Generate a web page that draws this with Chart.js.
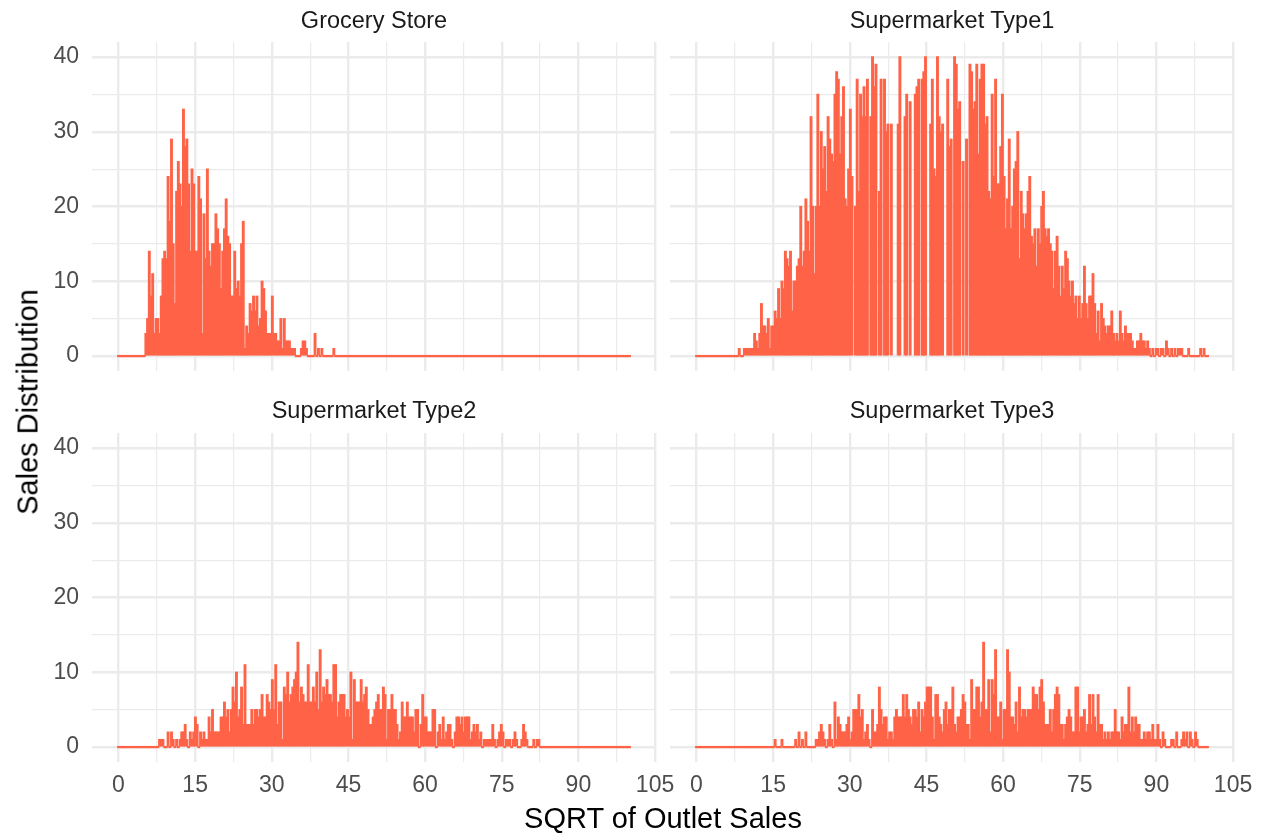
<!DOCTYPE html>
<html>
<head>
<meta charset="utf-8">
<script src="https://cdn.jsdelivr.net/npm/chart.js@4.4.1/dist/chart.umd.min.js"></script>
<style>
  body { margin: 0; background: #fff; }
  #wrap { position: relative; width: 1265px; height: 838px; overflow: hidden; font-family: "Liberation Sans", Arial, sans-serif; }
  canvas { position: absolute; }
  .strip { position: absolute; width: 564px; text-align: center; font-size: 23.5px; line-height: 24px; color: #1A1A1A; }
  .xtitle { position: absolute; left: 92px; width: 1142px; top: 804px; text-align: center; font-size: 29px; line-height: 29px; color: #000; }
  .ytitle { position: absolute; left: 28px; top: 402px; transform: translate(-50%, -50%) rotate(-90deg); white-space: nowrap; font-size: 29px; line-height: 29px; color: #000; }
</style>
</head>
<body>
<div id="wrap">
  <canvas id="c0" width="690" height="409" style="left:0px;top:2px"></canvas>
  <canvas id="c1" width="625" height="409" style="left:640px;top:2px"></canvas>
  <canvas id="c2" width="690" height="445" style="left:0px;top:393px"></canvas>
  <canvas id="c3" width="625" height="445" style="left:640px;top:393px"></canvas>
  <div class="strip" style="left:92px;top:8px">Grocery Store</div>
  <div class="strip" style="left:670px;top:8px">Supermarket Type1</div>
  <div class="strip" style="left:92px;top:398px">Supermarket Type2</div>
  <div class="strip" style="left:670px;top:398px">Supermarket Type3</div>
  <div class="xtitle">SQRT of Outlet Sales</div>
  <div class="ytitle">Sales Distribution</div>
</div>
<script>
// histogram bins: 300 bins over 0..100
const binCount = 300;
const binWidth = 100 / 299;

const xMajorTicks = [0, 15, 30, 45, 60, 75, 90, 105];
const xMinorTicks = [7.5, 22.5, 37.5, 52.5, 67.5, 82.5, 97.5];
const yMajorTicks = [0, 10, 20, 30, 40];
const yMinorTicks = [5, 15, 25, 35];

const panelNames = ['Grocery Store', 'Supermarket Type1', 'Supermarket Type2', 'Supermarket Type3'];

// counts per bin, starting at the given bin index (null = bin dropped, above 40)
const groceryStart = 16;
const groceryCounts = [
  3, 5, 14, 8, 11, 3, 5, 5, 3, 8,
  13, 14, 13, 24, 18, 29, 15, 7, 22, 26,
  23, 20, 33, 28, 29, 23, 14, 25, 23, 14,
  14, 24, 21, 3, 19, 13, 25, 14, 12, 15,
  15, 19, 17, 15, 9, 14, 17, 21, 16, 15,
  8, 8, 14, 9, 10, 8, 15, 18, 1, 4,
  3, 7, 6, 8, 6, 8, 4, 5, 10, 9,
  6, 3, 3, 3, 8, 3, 3, 2, 2, 5,
  1, 5, 2, 2, 2, 1, 1, 1, 0, 0,
  0, 1, 2, 2, 1, 0, 0, 0, 0, 3,
  0, 1, 0, 1, 0, 0, 0, 0, 0, 0, 1
];

const type1Start = 25;
const type1Counts = [
  1, 0, 0, 1, 1, 1, 1, 1, 1, 3,
  2, 1, 3, 7, 4, 4, 3, 5, 1, 4,
  4, 6, 5, 9, 5, 10, 9, 14, 13, 12,
  14, 6, 10, 10, 12, 13, 20, 12, 14, 21,
  18, 14, 32, 20, 11, 20, 35, 20, 30, 25,
  28, 22, 32, 29, 27, 26, 35, 38, 37, 27,
  32, 36, 21, 20, 25, 33, 24, null, 20, 37,
  22, 35, 32, 36, 32, 37, null, 32, 40, 36,
  39, null, 22, 37, null, 37, 30, 31, null, 31,
  null, null, null, 31, 40, null, null, 32, 35, null,
  34, null, null, 35, 36, 37, null, 37, 38, 40,
  null, null, 31, 37, 25, 24, 40, 32, 30, 31,
  null, null, 37, 28, 29, null, 40, 39, 33, 34,
  null, 26, null, 29, null, 39, 38, 33, 34, 39,
  27, 37, 39, 39, 31, 32, 22, 21, 35, 24,
  37, 23, 23, 28, 35, 24, 17, 21, 29, 17,
  20, 25, 26, 30, 13, 22, 19, 17, 19, 22,
  24, 16, 15, 17, 12, 17, 15, 20, 22, 17,
  16, 17, 15, 14, 9, 14, 16, 12, 8, 12,
  9, 14, 13, 10, 8, 10, 7, 8, 5, 8,
  5, 7, 12, 7, 5, 8, 8, 11, 7, 3,
  6, 2, 7, 5, 4, 3, 4, 4, 6, 3,
  2, 3, 2, 6, 3, 2, 4, 3, 3, 3,
  2, 1, 1, 2, 2, 3, 2, 2, 1, 2,
  1, 0, 1, 0, 1, 1, 0, 1, 1, 0,
  2, 1, 0, 1, 0, 1, 0, 1, 1, 1,
  0, 0, 0, 1, 0, 0, 0, 0, 0, 0,
  1, 0, 1
];

const type2Start = 24;
const type2Counts = [
  1, 1, 1, 0, 0, 2, 0, 2, 1, 0,
  1, 0, 1, 2, 2, 3, 1, 0, 2, 1,
  2, 4, 3, 0, 2, 1, 2, 1, 1, 4,
  2, 5, 2, 2, 2, 2, 4, 4, 6, 4, 5,
  2, 5, 8, 6, 10, 4, 5, 8, 3, 11,
  3, 3, 3, 5, 3, 5, 5, 4, 5, 7,
  4, 4, 7, 6, 5, 9, 5, 11, 3, 6, 6,
  1, 8, 7, 10, 6, 7, 8, 9, 10, 14,
  6, 8, 7, 6, 6, 11, 6, 6, 8, 6,
  10, 5, 13, 6, 8, 7, 9, 7, 7, 6,
  11, 11, 4, 6, 7, 7, 7, 4, 5, 4, 10,
  1, 9, 6, 6, 6, 9, 6, 7, 8, 5,
  3, 3, 4, 5, 6, 7, 5, 5, 8, 7,
  1, 5, 5, 7, 5, 5, 3, 1,
  2, 6, 4, 4, 6, 4, 4, 4, 2, 5,
  5, 0, 3, 7, 4, 4, 2, 2, 2, 5,
  5, 0, 2, 3, 1, 4, 1, 2, 3, 3,
  1, 0, 2, 4, 4, 3, 4, 2, 4, 4,
  4, 1, 2, 3, 2, 3, 1, 2, 0, 1,
  1, 1, 1, 1, 3, 1, 0, 1, 2, 3,
  2, 0, 1, 1, 1, 0, 1, 2, 1, 0,
  0, 1, 3, 2, 1, 0, 0, 0, 1, 0,
  1, 1
];

const type3Start = 46;
const type3Counts = [
  1, 0, 0, 0, 1, 0, 0, 0, 0, 0,
  0, 0, 1, 0, 2, 0, 1, 0, 2, 0,
  0, 0, 0, 0, 1, 1, 2, 3, 2, 1,
  0, 1, 3, 1, 0, 6, 1, 4, 3, 2,
  2, 2, 3, 4, 1, 2, 5, 5, 5, 7,
  4, 5, 1, 2, 3, 1, 0, 5, 2, 2,
  3, 8, 5, 3, 4, 4, 1, 2, 2, 1,
  4, 5, 4, 4, 4, 7, 4, 7, 5, 4,
  3, 5, 5, 4, 6, 2, 5, 4, 6, 8,
  8, 8, 4, 1, 7, 7, 4, 3, 2, 5,
  6, 3, 5, 5, 8, 3, 2,
  4, 4, 5, 7, 6, 3, 3,
  1, 9, 5, 5, 8, 8, 4, 6, 14, 5, 5,
  9, 2, 9, 7, 13, 4, 4, 6, 1, 5, 5,
  13, 10, 4, 4, 3, 6, 2, 8, 4, 5, 5,
  4, 5, 5, 5, 8, 7, 7, 5, 8, 9, 6,
  3, 3, 3, 5, 2, 5, 7, 8, 7, 3, 3,
  1, 3, 4, 5, 4, 2, 2, 8, 8, 2, 4,
  4, 5, 2, 3, 7, 3, 7, 4, 2, 7, 3,
  3, 1, 2, 1, 2, 1, 2, 2, 5, 2, 2,
  1, 4, 2, 3, 3, 8, 2, 4, 2, 4, 3,
  3, 1, 1, 2, 1, 2, 2, 1, 3, 1, 1,
  3, 1, 0, 2, 1, 0, 0, 0, 1, 1, 0,
  2, 0, 0, 1, 2, 1, 2, 0, 2, 1, 0,
  2, 1
];

function buildSeries(start, counts) {
  const out = [];
  for (let i = 0; i < binCount; i++) {
    const k = i - start;
    const v = (k >= 0 && k < counts.length) ? counts[k] : 0;
    out.push({ x: i * binWidth, y: v });
  }
  return out;
}

const tickFont = { family: '"Liberation Sans", Arial, sans-serif', size: 23 };
const gridColor = '#EBEBEB';

function makePanel(id, start, counts, showX, showY, pad) {
  const xTicks = xMajorTicks.concat(xMinorTicks).sort((a, b) => a - b);
  const yTicks = yMajorTicks.concat(yMinorTicks).sort((a, b) => a - b);
  new Chart(document.getElementById(id), {
    type: 'bar',
    data: {
      datasets: [{
        data: buildSeries(start, counts),
        backgroundColor: '#FF6347',
        borderWidth: 0,
        minBarLength: 1,
        inflateAmount: 0.6,
        barPercentage: 1,
        categoryPercentage: 1,
      }],
    },
    options: {
      responsive: false,
      animation: false,
      events: [],
      layout: { padding: pad },
      plugins: { legend: { display: false }, tooltip: { enabled: false } },
      scales: {
        x: {
          type: 'linear',
          min: -5.19,
          max: 105.19,
          offset: false,
          border: { display: false },
          grid: {
            offset: false,
            drawTicks: false,
            color: gridColor,
            lineWidth: (c) => (c.tick && xMajorTicks.includes(c.tick.value)) ? 2.4 : 1.2,
          },
          afterBuildTicks: (s) => { s.ticks = xTicks.map((v) => ({ value: v })); },
          afterFit: (s) => { s.height = showX ? 60 : 0; },
          ticks: {
            display: showX,
            autoSkip: false,
            maxRotation: 0,
            padding: 10,
            color: '#4D4D4D',
            font: tickFont,
            callback: (v) => xMajorTicks.includes(v) ? String(v) : '',
          },
        },
        y: {
          min: -2,
          max: 42,
          border: { display: false },
          grid: {
            drawTicks: false,
            color: gridColor,
            lineWidth: (c) => (c.tick && yMajorTicks.includes(c.tick.value)) ? 2.4 : 1.2,
          },
          afterBuildTicks: (s) => { s.ticks = yTicks.map((v) => ({ value: v })); },
          afterFit: (s) => { s.width = showY ? 92 : 0; },
          ticks: {
            display: showY,
            autoSkip: false,
            padding: 13,
            color: '#4D4D4D',
            font: tickFont,
            callback: (v) => yMajorTicks.includes(v) ? String(v) : '',
          },
        },
      },
    },
  });
}

makePanel('c0', groceryStart, groceryCounts, false, true, { top: 40, bottom: 40, left: 0, right: 34 });
makePanel('c1', type1Start, type1Counts, false, false, { top: 40, bottom: 40, left: 30, right: 31 });
makePanel('c2', type2Start, type2Counts, true, true, { top: 40, bottom: 16, left: 0, right: 34 });
makePanel('c3', type3Start, type3Counts, true, false, { top: 40, bottom: 16, left: 30, right: 31 });
</script>
</body>
</html>
